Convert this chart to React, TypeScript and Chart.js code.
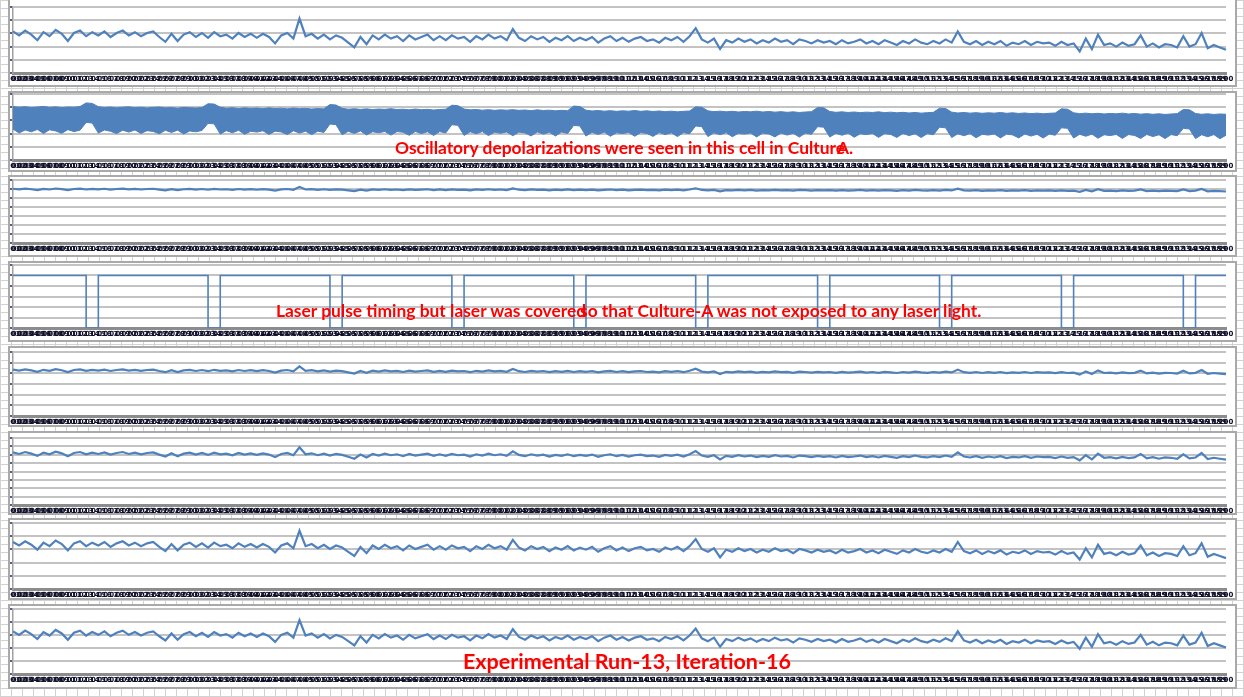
import React, { useEffect, useRef } from "react";
import { Chart, registerables } from "chart.js";

Chart.register(...registerables);

// Membrane potential of the recorded cell (mV), one value per sample
const cellTrace = [
  -61.8, -62.3, -61.7, -62.2, -62.9, -61.9, -62.4, -61.6, -62.1, -63.0,
  -62.0, -61.7, -62.4, -61.9, -62.3, -61.8, -62.5, -62.0, -61.7, -62.3,
  -61.9, -62.4, -62.0, -61.8, -62.5, -63.1, -62.1, -63.0, -62.2, -61.9,
  -62.5, -62.0, -62.6, -61.9, -62.4, -62.2, -62.7, -62.0, -62.5, -62.1,
  -62.6, -62.1, -62.5, -63.3, -62.3, -62.0, -62.7, -60.2, -62.4, -62.1,
  -62.7, -62.2, -62.8, -62.3, -62.6, -63.2, -63.8, -62.5, -63.4, -62.3,
  -62.8, -62.2, -62.7, -62.4, -63.0, -62.3, -62.8, -62.5, -62.2, -62.9,
  -62.4, -62.9, -62.3, -62.7, -62.5, -63.1, -62.4, -62.8, -62.2, -62.7,
  -62.4, -62.9, -61.5, -62.6, -63.0, -62.4, -62.8, -62.5, -63.1, -62.6,
  -62.9, -62.4, -63.0, -62.6, -62.9, -62.5, -63.2, -62.7, -62.4, -63.0,
  -62.6, -63.1, -62.7, -62.5, -63.0, -62.8, -63.2, -62.6, -62.9, -62.5,
  -63.1, -62.4, -61.4, -62.8, -63.2, -62.7, -64.0, -62.9, -63.2, -62.7,
  -63.1, -62.8, -63.3, -62.9, -63.2, -62.7, -63.1, -62.9, -63.4, -62.8,
  -63.0, -63.3, -62.9, -63.2, -63.0, -63.4, -62.9, -63.3, -63.1, -62.8,
  -63.3, -63.0, -63.4, -62.9, -63.2, -63.5, -63.0, -63.3, -62.8, -63.2,
  -63.4, -63.0, -63.3, -62.8, -63.2, -61.8, -63.1, -63.4, -63.0, -63.5,
  -63.1, -63.4, -63.0, -63.6, -63.2, -63.4, -63.0, -63.5, -63.1, -63.3,
  -63.2, -63.6, -63.1, -63.5, -63.3, -64.3, -62.7, -64.0, -62.2, -63.5,
  -63.3, -63.7, -63.2, -63.6, -63.4, -62.3, -63.7, -63.3, -63.8, -63.4,
  -63.5, -63.8, -62.4, -63.7, -63.4, -62.0, -63.9, -63.5, -63.8, -64.1,
];

// Oscillating cell (Culture-A): upper and lower envelope of the dense oscillation (mV)
const oscUpper = [
  -47.6, -48.0, -47.7, -48.2, -47.9, -47.5, -48.1, -47.8, -48.3, -47.9,
  -48.0, -47.6, -45.4, -45.7, -47.7, -48.2, -47.9, -48.4, -48.0, -47.8,
  -48.3, -48.0, -48.5, -48.1, -47.9, -48.4, -48.2, -48.6, -48.1, -48.3,
  -48.5, -48.2, -45.9, -46.1, -48.0, -48.6, -48.3, -48.8, -48.4, -48.7,
  -48.5, -48.9, -48.4, -48.8, -48.6, -49.0, -48.5, -48.9, -48.7, -49.1,
  -48.8, -49.0, -46.4, -46.7, -48.7, -49.2, -48.9, -49.3, -49.0, -49.4,
  -49.1, -49.3, -48.9, -49.4, -49.2, -49.6, -49.1, -49.5, -49.3, -49.7,
  -49.4, -49.2, -46.8, -47.1, -49.1, -49.6, -49.4, -49.8, -49.5, -49.9,
  -49.6, -49.8, -49.5, -49.9, -49.7, -50.1, -49.6, -50.0, -49.8, -50.2,
  -49.9, -50.1, -47.3, -47.6, -49.8, -50.3, -50.0, -50.4, -50.1, -50.5,
  -50.2, -50.4, -50.0, -50.5, -50.2, -50.6, -50.3, -50.7, -50.4, -50.8,
  -50.5, -50.3, -47.8, -48.0, -50.2, -50.7, -50.4, -50.8, -50.5, -50.9,
  -50.6, -50.8, -50.4, -50.9, -50.6, -51.0, -50.7, -51.1, -50.8, -51.2,
  -50.9, -50.7, -48.2, -48.4, -50.6, -51.1, -50.8, -51.2, -50.9, -51.3,
  -51.0, -51.2, -50.8, -51.3, -51.0, -51.4, -51.1, -51.5, -51.2, -51.6,
  -51.3, -51.1, -48.6, -48.8, -51.0, -51.5, -51.2, -51.6, -51.3, -51.7,
  -51.4, -51.6, -51.2, -51.7, -51.4, -51.8, -51.5, -51.9, -51.6, -52.0,
  -51.7, -51.5, -49.0, -49.2, -51.4, -51.9, -51.6, -52.0, -51.7, -52.1,
  -51.8, -52.0, -51.6, -52.1, -51.8, -52.2, -51.9, -52.3, -52.0, -52.4,
  -52.1, -51.9, -49.4, -49.6, -51.8, -52.3, -52.0, -52.4, -52.1, -52.3,
];

const oscLower = [
  -61.3, -63.6, -61.8, -62.9, -61.5, -63.9, -61.7, -62.4, -63.8, -61.6,
  -62.8, -61.9, -57.2, -57.6, -63.7, -61.8, -62.6, -64.0, -61.9, -63.1,
  -61.8, -63.9, -62.2, -62.7, -64.1, -62.0, -63.3, -61.9, -64.2, -62.4,
  -62.9, -62.1, -57.8, -58.1, -64.3, -62.2, -63.5, -62.0, -64.4, -62.6,
  -63.1, -62.3, -64.5, -62.5, -63.0, -64.6, -62.3, -63.7, -62.6, -64.6,
  -62.5, -63.3, -58.2, -58.6, -64.7, -62.6, -63.9, -62.4, -64.8, -62.9,
  -63.5, -62.7, -64.9, -62.8, -63.2, -65.0, -62.7, -64.0, -62.9, -65.1,
  -62.8, -63.6, -58.6, -59.0, -65.1, -62.9, -64.1, -62.8, -65.2, -63.2,
  -63.8, -63.0, -65.3, -63.1, -63.6, -65.4, -63.0, -64.3, -63.2, -65.4,
  -63.1, -63.9, -59.0, -59.4, -65.5, -63.2, -64.5, -63.1, -65.6, -63.5,
  -64.0, -63.3, -65.6, -63.4, -63.9, -65.7, -63.3, -64.6, -63.5, -65.8,
  -63.4, -64.1, -59.4, -59.8, -65.8, -63.5, -64.7, -63.4, -65.9, -63.8,
  -64.3, -63.6, -66.0, -63.7, -64.2, -66.0, -63.6, -64.9, -63.8, -66.1,
  -63.7, -64.4, -59.8, -60.1, -66.1, -63.8, -65.0, -63.7, -66.2, -64.1,
  -64.6, -63.9, -66.3, -64.0, -64.5, -66.3, -63.9, -65.2, -64.1, -66.4,
  -64.0, -64.7, -60.1, -60.5, -66.4, -64.1, -65.3, -64.0, -66.5, -64.4,
  -64.9, -64.2, -66.6, -64.3, -64.8, -66.6, -64.2, -65.5, -64.4, -66.7,
  -64.3, -65.0, -60.5, -60.8, -66.7, -64.4, -65.6, -64.3, -66.8, -64.7,
  -65.2, -64.5, -66.9, -64.6, -65.1, -66.9, -64.5, -65.8, -64.7, -67.0,
  -64.6, -65.3, -60.8, -61.2, -67.0, -64.7, -65.9, -64.6, -67.1, -65.0,
];

// Laser pulse timing (sample index where each pulse starts) and pulse length in samples
const laserOnsets = [12, 32, 52, 72, 92, 112, 132, 152, 172, 192];
const laserPulseSamples = 2;
const laserIdle = 5;
const laserOn = 0;

// Sample numbers used as x tick labels
const sampleLabels = cellTrace.map((_, i) => String(i + 1).padStart(3, "0"));

// Y-axis ranges of the eight stacked charts
const yMins = [-67.0, -80, -107, 0, -85, -78.3, -68.5, -67.9];
const yMaxs = [-58.75, -40, -54.5, 6, -53, -57.3, -59.1, -58.6];
const yGridCounts = [6, 6, 8, 7, 7, 9, 6, 6];

const BLUE = "#4f81bd";

type Geo = { top: number; bottom: number; chartTop: number; chartBottom: number };

const GEOS: Geo[] = [
  { top: -3, bottom: 87, chartTop: 7, chartBottom: 73 },
  { top: 91, bottom: 172, chartTop: 94, chartBottom: 160 },
  { top: 175, bottom: 257, chartTop: 180, chartBottom: 243 },
  { top: 261, bottom: 342, chartTop: 265, chartBottom: 328 },
  { top: 346, bottom: 427, chartTop: 352, chartBottom: 416 },
  { top: 431, bottom: 515, chartTop: 438, chartBottom: 505 },
  { top: 518, bottom: 600, chartTop: 523, chartBottom: 589 },
  { top: 604, bottom: 689, chartTop: 609, chartBottom: 674 },
];

const BOX_LEFT = 8;
const BOX_WIDTH = 1229;
const BORDER = 2;

function buildDatasets(idx: number): any[] {
  if (idx === 1) {
    return [
      {
        data: oscUpper,
        borderColor: BLUE,
        backgroundColor: BLUE,
        borderWidth: 1,
        fill: "+1",
      },
      {
        data: oscLower,
        borderColor: BLUE,
        backgroundColor: BLUE,
        borderWidth: 1,
        fill: false,
      },
    ];
  }
  if (idx === 3) {
    const laser = sampleLabels.map((_, i) =>
      laserOnsets.some((o) => i >= o && i < o + laserPulseSamples) ? laserOn : laserIdle
    );
    return [
      {
        data: laser,
        borderColor: BLUE,
        borderWidth: 1.6,
        stepped: true,
        fill: false,
      },
    ];
  }
  return [
    {
      data: cellTrace,
      borderColor: BLUE,
      borderWidth: 2.2,
      fill: false,
    },
  ];
}

function Panel({ idx }: { idx: number }) {
  const ref = useRef<HTMLCanvasElement | null>(null);
  const g = GEOS[idx];
  const boxH = g.bottom - g.top;
  const canvasW = BOX_WIDTH - 2 * BORDER;
  const canvasH = boxH - 2 * BORDER;
  const canvasTop = g.top + BORDER;
  const padTop = g.chartTop - canvasTop;
  const xh = canvasH - (g.chartBottom - canvasTop);

  useEffect(() => {
    if (!ref.current) return;
    const chart = new Chart(ref.current, {
      type: "line",
      data: { labels: sampleLabels, datasets: buildDatasets(idx) },
      options: {
        responsive: false,
        maintainAspectRatio: false,
        animation: false,
        layout: { padding: { top: padTop, right: 9, left: 0, bottom: 0 } },
        plugins: { legend: { display: false }, tooltip: { enabled: false } },
        elements: { point: { radius: 0 }, line: { tension: 0 } },
        scales: {
          x: {
            type: "category",
            offset: false,
            grid: { display: false, drawTicks: false },
            border: { display: true, color: "#8c8c8c", width: 3 },
            ticks: {
              autoSkip: false,
              maxRotation: 0,
              minRotation: 0,
              padding: 2,
              color: "#10102a",
              font: { size: 7, weight: "bold", family: "DejaVu Sans" },
            },
            afterFit: (s: any) => {
              s.height = xh;
              s.paddingLeft = 0;
              s.paddingRight = 0;
            },
          },
          y: {
            min: yMins[idx],
            max: yMaxs[idx],
            ticks: { count: yGridCounts[idx], display: false },
            grid: {
              color: "#c3c3c3",
              lineWidth: 2,
              drawTicks: true,
              tickLength: 3,
              tickColor: "#55608a",
            },
            border: { display: true, color: "#a0a0a0", width: 1.5 },
            afterFit: (s: any) => {
              s.width = 3;
              s.paddingTop = 0;
              s.paddingBottom = 0;
            },
          },
        },
      } as any,
    });
    return () => chart.destroy();
  }, [idx]);

  return (
    <div
      style={{
        position: "absolute",
        left: BOX_LEFT,
        top: g.top,
        width: BOX_WIDTH,
        height: boxH,
        border: `${BORDER}px solid #a9a9a9`,
        boxSizing: "border-box",
        background: "#ffffff",
      }}
    >
      <canvas
        ref={ref}
        width={canvasW}
        height={canvasH}
        style={{ position: "absolute", left: 0, top: 0, width: canvasW, height: canvasH }}
      />
    </div>
  );
}

const noteStyle: React.CSSProperties = {
  position: "absolute",
  color: "#ff0000",
  fontFamily: "Lato, 'Open Sans', sans-serif",
  fontWeight: 700,
  whiteSpace: "nowrap",
  lineHeight: 1,
  zIndex: 5,
};

export default function App() {
  return (
    <div
      style={{
        position: "fixed",
        left: 0,
        top: 0,
        width: 1244,
        height: 697,
        overflow: "hidden",
        backgroundColor: "#ffffff",
        backgroundImage:
          "linear-gradient(to right, #d2d2d2 1px, transparent 1px), linear-gradient(to bottom, #d2d2d2 1px, transparent 1px)",
        backgroundSize: "11px 8px",
      }}
    >
      {GEOS.map((_, i) => (
        <Panel key={i} idx={i} />
      ))}
      <div style={{ ...noteStyle, left: 395, top: 139, fontSize: 17.4 }}>
        Oscillatory depolarizations were seen in this cell in Culture
      </div>
      <div style={{ ...noteStyle, left: 837, top: 139, fontSize: 17.4 }}>A.</div>
      <div style={{ ...noteStyle, left: 276, top: 302, fontSize: 17.4 }}>
        Laser pulse timing but laser was covered
      </div>
      <div style={{ ...noteStyle, left: 580, top: 302, fontSize: 17.4 }}>
        so that Culture-A was not exposed to any laser light.
      </div>
      <div style={{ ...noteStyle, left: 463, top: 651, fontSize: 21.5 }}>
        Experimental Run-13, Iteration-16
      </div>
    </div>
  );
}
